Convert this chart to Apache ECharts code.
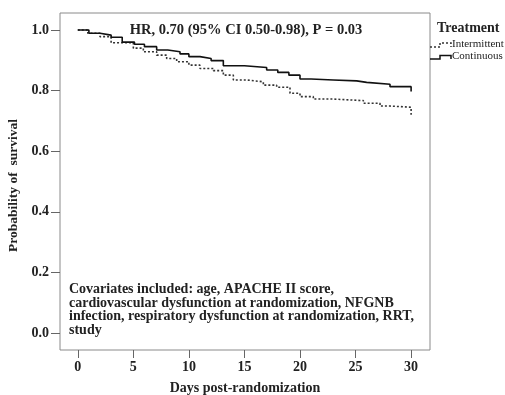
<!DOCTYPE html>
<html>
<head>
<meta charset="utf-8">
<script src="https://cdn.jsdelivr.net/npm/echarts@6/dist/echarts.min.js"></script>
<style>
  html, body { margin: 0; padding: 0; background: #fff; }
  #chart { width: 505px; height: 395px; }
</style>
</head>
<body>
<div id="chart"></div>
<script>
// Kaplan-Meier steps
const contDays = [0, 1, 2, 3, 4, 5.1, 6, 7.1, 8.1, 9.2, 10, 11, 12, 13.1, 15, 17, 18, 19, 20, 21, 23, 25.1, 26, 28.1, 30, 30];
const contSurv = [1.0, 0.989, 0.983, 0.976, 0.96, 0.953, 0.945, 0.934, 0.928, 0.921, 0.912, 0.906, 0.899, 0.882, 0.876, 0.868, 0.86, 0.851, 0.838, 0.835, 0.832, 0.827, 0.821, 0.813, 0.813, 0.797];

const intDays = [0, 0.9, 2, 3, 5, 5.9, 7.1, 8, 8.9, 10, 11, 12.2, 13.1, 14, 15.2, 16.7, 17.9, 19.1, 20, 21.2, 23, 25.7, 27.2, 28.1, 30, 30];
const intSurv = [1.0, 0.989, 0.978, 0.958, 0.94, 0.928, 0.917, 0.906, 0.895, 0.884, 0.873, 0.866, 0.851, 0.835, 0.829, 0.818, 0.811, 0.791, 0.78, 0.772, 0.767, 0.758, 0.749, 0.745, 0.745, 0.72];

const xTicks = [0, 5, 10, 15, 20, 25, 30];
const yTicks = [0, 0.2, 0.4, 0.6, 0.8, 1.0];

const hrText = 'HR, 0.70 (95% CI 0.50-0.98), P = 0.03';
const covText = [
  'Covariates included: age, APACHE II score,',
  'cardiovascular dysfunction at randomization, NFGNB',
  'infection, respiratory dysfunction at randomization, RRT,',
  'study'
];

const serif = '"Liberation Serif", "DejaVu Serif", serif';

const chart = echarts.init(document.getElementById('chart'));

chart.setOption({
  animation: false,
  backgroundColor: '#fff',
  grid: {
    left: 60, right: 75, top: 13, bottom: 45,
    outerBoundsMode: 'none',
    show: true, borderColor: '#8a8a8a', borderWidth: 1
  },
  title: [
    {
      text: hrText,
      left: 241, top: 18, textAlign: 'center',
      textStyle: { fontFamily: serif, fontWeight: 'bold', fontSize: 14.5, color: '#222' }
    },
    {
      text: covText.join('\n'),
      left: 64, top: 278,
      textStyle: { fontFamily: serif, fontWeight: 'bold', fontSize: 14, color: '#222', lineHeight: 13.4 }
    }
  ],
  xAxis: {
    type: 'value',
    min: -1.6, max: 31.7,
    name: 'Days post-randomization',
    nameLocation: 'middle',
    nameGap: 31,
    nameTextStyle: { fontFamily: serif, fontWeight: 'bold', fontSize: 14, color: '#222' },
    axisLine: { show: false, onZero: false },
    splitLine: { show: false },
    axisTick: { show: true, length: 8, customValues: xTicks, lineStyle: { color: '#666' } },
    axisLabel: {
      customValues: xTicks, margin: 10,
      fontFamily: serif, fontWeight: 'bold', fontSize: 14, color: '#222'
    }
  },
  yAxis: {
    type: 'value',
    min: -0.056, max: 1.056,
    name: 'Probability of  survival',
    nameLocation: 'middle',
    nameGap: 38,
    nameTextStyle: { fontFamily: serif, fontWeight: 'bold', fontSize: 13.5, color: '#222', padding: [0, 8, 0, 0] },
    axisLine: { show: false, onZero: false },
    splitLine: { show: false },
    axisTick: { show: true, length: 9, customValues: yTicks, lineStyle: { color: '#666' } },
    axisLabel: {
      customValues: yTicks, margin: 11,
      formatter: v => v.toFixed(1),
      fontFamily: serif, fontWeight: 'bold', fontSize: 14, color: '#222'
    }
  },
  series: [
    {
      name: 'Intermittent',
      type: 'line',
      step: 'end',
      showSymbol: false,
      data: intDays.map((d, i) => [d, intSurv[i]]),
      lineStyle: { color: '#333', width: 1.6, type: [2, 2] }
    },
    {
      name: 'Continuous',
      type: 'line',
      step: 'end',
      showSymbol: false,
      data: contDays.map((d, i) => [d, contSurv[i]]),
      lineStyle: { color: '#111', width: 1.6 }
    }
  ],
  graphic: [
    {
      type: 'text', left: 437, top: 21,
      style: { text: 'Treatment', font: 'bold 14px ' + serif, fill: '#222' }
    },
    {
      type: 'polyline',
      shape: { points: [[430, 47], [440, 47], [440, 43], [451, 43], [451, 47]] },
      style: { stroke: '#333', lineWidth: 1.5, lineDash: [2, 2], fill: null }
    },
    {
      type: 'text', left: 452, top: 39,
      style: { text: 'Intermittent', font: '11px ' + serif, fill: '#222' }
    },
    {
      type: 'polyline',
      shape: { points: [[430, 59], [440, 59], [440, 55.5], [451, 55.5], [451, 59]] },
      style: { stroke: '#111', lineWidth: 1.5, fill: null }
    },
    {
      type: 'text', left: 452, top: 51,
      style: { text: 'Continuous', font: '11px ' + serif, fill: '#222' }
    }
  ]
});
</script>
</body>
</html>
